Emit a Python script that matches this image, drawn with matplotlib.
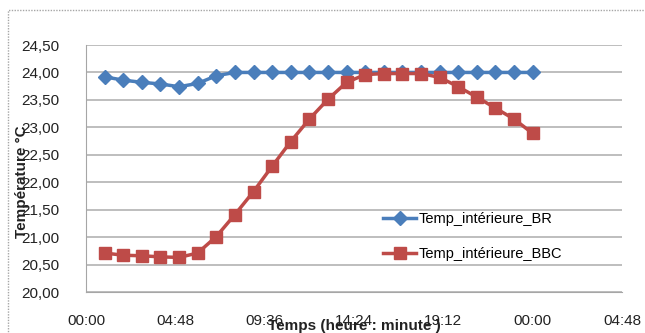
import matplotlib
matplotlib.use("Agg")
import matplotlib.pyplot as plt
from matplotlib.patches import Rectangle
from matplotlib import font_manager

names = {f.name for f in font_manager.fontManager.ttflist}
fam = "Liberation Sans Narrow" if "Liberation Sans Narrow" in names else "Liberation Sans"
plt.rcParams['font.family'] = [fam, 'DejaVu Sans']

hours = list(range(1, 25))
br = [23.92, 23.86, 23.82, 23.79, 23.74, 23.80, 23.94, 24.00, 24.00, 24.00,
      24.00, 24.00, 24.00, 24.00, 24.00, 24.00, 24.00, 24.00, 24.00, 24.00,
      24.00, 24.00, 24.00, 24.00]
bbc = [20.71, 20.67, 20.66, 20.64, 20.63, 20.71, 21.01, 21.41, 21.83, 22.29,
       22.74, 23.15, 23.51, 23.82, 23.96, 23.98, 23.98, 23.98, 23.91, 23.74,
       23.55, 23.35, 23.15, 22.89]
xticks = [0, 4.8, 9.6, 14.4, 19.2, 24.0, 28.8]
xticklabels = ["00:00", "04:48", "09:36", "14:24", "19:12", "00:00", "04:48"]
yticks = [20.0, 20.5, 21.0, 21.5, 22.0, 22.5, 23.0, 23.5, 24.0, 24.5]
yticklabels = ["20,00", "20,50", "21,00", "21,50", "22,00", "22,50", "23,00", "23,50", "24,00", "24,50"]

W, H = 645, 333
fig = plt.figure(figsize=(W/100, H/100), dpi=100)
fig.patch.set_facecolor("white")
fig.patches.append(Rectangle((8/W, -0.1), 1.0, 1 - 10/H + 0.1, transform=fig.transFigure,
                             fill=False, edgecolor="#a6a6a6", linewidth=1.0, linestyle=(0, (1, 1))))

ax = fig.add_axes([86/W, 1 - 292/H, (622-86)/W, (292-45)/H])
ax.set_xlim(0, 28.8)
ax.set_ylim(20.0, 24.5)
ax.set_xticks(xticks)
ax.set_xticklabels(xticklabels)
ax.set_yticks(yticks)
ax.set_yticklabels(yticklabels)
ax.grid(axis='y', color="#b3b3b3", linewidth=1.2)
ax.set_axisbelow(True)
for s in ["top", "right"]:
    ax.spines[s].set_visible(False)
ax.spines["left"].set_color("#a6a6a6")
ax.spines["bottom"].set_color("#a6a6a6")
ax.tick_params(length=0, labelsize=11, colors="#222222")
ax.tick_params(axis='x', pad=16)
ax.tick_params(axis='y', pad=19)

ax.plot(hours, br, color="#4a7ebb", linewidth=2.5, marker="D", markersize=7,
        label="Temp_intérieure_BR", zorder=3)
ax.plot(hours, bbc, color="#be4b48", linewidth=2.5, marker="s", markersize=9,
        label="Temp_intérieure_BBC", zorder=3)

leg = ax.legend(loc="upper left", bbox_to_anchor=(376/W, 1 - 205/H), bbox_transform=fig.transFigure,
                frameon=False, fontsize=10.5, handlelength=2.25, handletextpad=0.2,
                labelspacing=1.45, borderpad=0)

fig.text(22/W, 1 - 182/H, "Température °C", rotation=90, ha="center", va="center",
         fontsize=11, fontweight="bold", color="#222222")
fig.text(354/W, 1 - 326/H, "Temps (heure : minute )", ha="center", va="center",
         fontsize=11, fontweight="bold", color="#222222")

fig.savefig("out.png", dpi=100, facecolor="white")
